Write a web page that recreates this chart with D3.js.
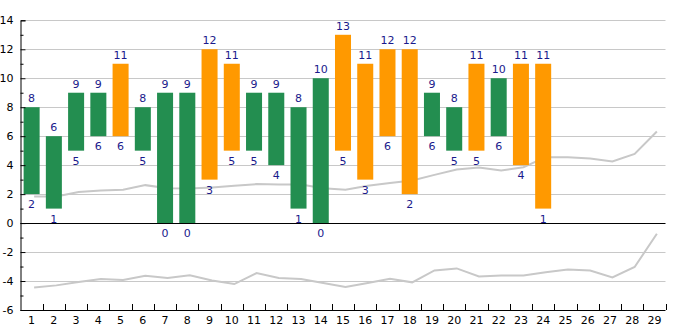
<!DOCTYPE html>
<html><head><meta charset="utf-8">
<script src="https://cdn.jsdelivr.net/npm/d3@7/dist/d3.min.js"></script>
<style>
html,body{margin:0;padding:0;background:#fff;}
svg{display:block;font-family:"DejaVu Sans",sans-serif;}
</style></head><body>
<svg id="c" width="685" height="330"></svg>
<script>
const categories = d3.range(1, 30).map(String);
const lows  = [2,1,5,6,6,5,0,0,3,5,5,4,1,0,5,3,6,2,6,5,5,6,4,1];
const highs = [8,6,9,9,11,8,9,9,12,11,9,9,8,10,13,11,12,12,9,8,11,10,11,11];
const upperLine = [1.83,1.83,2.14,2.25,2.3,2.62,2.41,2.38,2.46,2.57,2.69,2.66,2.66,2.41,2.30,2.57,2.76,2.94,3.33,3.70,3.84,3.63,3.86,4.55,4.55,4.46,4.25,4.78,6.32];
const lowerLine = [-4.44,-4.30,-4.07,-3.86,-3.93,-3.63,-3.79,-3.61,-3.96,-4.21,-3.45,-3.79,-3.86,-4.14,-4.41,-4.14,-3.84,-4.09,-3.27,-3.13,-3.68,-3.61,-3.61,-3.40,-3.20,-3.27,-3.75,-3.03,-0.74];
const yMajorTicks = [-6,-4,-2,0,2,4,6,8,10,12,14];
const yMinorTicks = [-5,-3,-1,1,3,5,7,9,11,13];

const svg = d3.select("#c");
const L = 20.5, R = 665.5, T = 20.3, B = 310;
const x = d3.scaleBand().domain(categories).range([L, R]).paddingInner(0.28).paddingOuter(0.14);
const xc = d3.scaleBand().domain(categories).range([L, R]);
const y = d3.scaleLinear().domain([-6, 14]).range([B, T]);

// gridlines
svg.append("g").selectAll("line").data(yMajorTicks.filter(v => v !== 0 && v !== -6)).join("line")
  .attr("x1", L + 5).attr("x2", R).attr("y1", d => Math.round(y(d)) + 0.5).attr("y2", d => Math.round(y(d)) + 0.5)
  .attr("stroke", "#c8c8c8").attr("stroke-width", 1);

// lines
const lineGen = (arr) => d3.line().x((d, i) => xc(categories[i]) + xc.bandwidth() / 2 + 2.5).y(d => y(d))(arr);
svg.append("path").attr("d", lineGen(upperLine)).attr("fill", "none").attr("stroke", "#c8c8c8").attr("stroke-width", 2);
svg.append("path").attr("d", lineGen(lowerLine)).attr("fill", "none").attr("stroke", "#c8c8c8").attr("stroke-width", 2);

// bars
const bars = lows.map((lo, i) => ({cat: categories[i], lo, hi: highs[i]}));
const color = d => d.hi > 10 ? "#ff9900" : "#238e50";
svg.append("g").selectAll("rect").data(bars).join("rect")
  .attr("x", d => x(d.cat)).attr("width", x.bandwidth())
  .attr("y", d => y(d.hi)).attr("height", d => y(d.lo) - y(d.hi))
  .attr("fill", color);

// zero line
svg.append("line").attr("x1", L).attr("x2", R).attr("y1", Math.round(y(0)) + 0.5).attr("y2", Math.round(y(0)) + 0.5)
  .attr("stroke", "#000").attr("stroke-width", 1);

// value labels
const lab = svg.append("g").attr("font-size", 11).attr("fill", "#1a1a8c").attr("text-anchor", "middle");
lab.selectAll("text.hi").data(bars).join("text").attr("class", "hi")
  .attr("x", d => x(d.cat) + x.bandwidth() / 2).attr("y", d => y(d.hi) - 5).text(d => d.hi);
lab.selectAll("text.lo").data(bars).join("text").attr("class", "lo")
  .attr("x", d => x(d.cat) + x.bandwidth() / 2).attr("y", d => y(d.lo) + 14).text(d => d.lo);

// y axis
const yAxis = d3.axisRight(y).tickValues(yMajorTicks).tickSize(5).tickFormat(d => String(d));
const gy = svg.append("g").attr("transform", `translate(${L},0)`).call(yAxis);
gy.select(".domain").attr("stroke", "#000");
gy.selectAll("text").attr("text-anchor", "end").attr("font-size", 11).attr("font-family", "DejaVu Sans").attr("fill", "#000").attr("x", -7);
svg.append("g").attr("transform", `translate(${L},0)`).call(d3.axisRight(y).tickValues(yMinorTicks).tickSize(3).tickFormat(""))
  .select(".domain").remove();

// x axis
const gx = svg.append("g").attr("transform", `translate(0,${B})`)
  .call(d3.axisTop(xc).tickSize(0).tickPadding(0));
gx.select(".domain").attr("stroke", "#000").attr("d", `M${L},0.5H${R}`);
gx.selectAll(".tick line").remove();
gx.selectAll(".tick text").attr("y", 13.5).attr("dy", null).attr("font-size", 11).attr("font-family", "DejaVu Sans").attr("fill", "#000");
svg.append("g").selectAll("line").data(categories.slice(1).concat(["end"])).join("line")
  .attr("x1", d => Math.round(d === "end" ? R : xc(d)) + 0.5).attr("x2", d => Math.round(d === "end" ? R : xc(d)) + 0.5)
  .attr("y1", B).attr("y2", B - 6).attr("stroke", "#000");
</script>
</body></html>
